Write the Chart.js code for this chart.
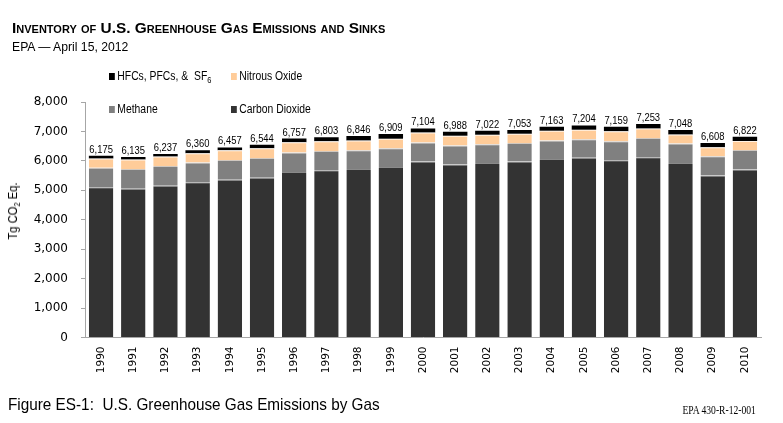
<!DOCTYPE html>
<html>
<head>
<meta charset="utf-8">
<title>U.S. Greenhouse Gas Emissions by Gas</title>
<script src="https://cdn.jsdelivr.net/npm/chart.js@4.4.1/dist/chart.umd.min.js"></script>
<style>
  html, body { margin: 0; padding: 0; background: #fff; }
  #wrap { position: relative; width: 783px; height: 423px; overflow: hidden; }
  #chart { position: absolute; left: 0; top: 0; }
  .txt { position: absolute; white-space: nowrap; color: #000; line-height: 1; }
  .narrow { font-family: "Liberation Sans", Arial, sans-serif; transform-origin: left center; transform: scaleX(0.83); }
  #title { left: 12px; top: 19px; font: bold 15.4px "Liberation Sans", Arial, sans-serif; font-variant: small-caps; }
  #subtitle { left: 12px; top: 40px; font: 12.2px "Liberation Sans", Arial, sans-serif; }
  .legend { font-size: 12.5px; }
  .legend i { display: inline-block; width: 7px; height: 7px; margin-right: 3px; vertical-align: 0; }
  .legend sub { font-size: 9px; vertical-align: -3px; }
  #ytitle { left: 14px; top: 211px; font-size: 13.5px; transform-origin: center center; transform: translate(-50%, -50%) rotate(-90deg) scaleX(0.83); }
  #ytitle sub { font-size: 9px; vertical-align: -3px; }
  #caption { left: 8px; top: 396px; font-size: 17px; transform: scaleX(0.9); }
  #docid { right: 27px; top: 403px; font: 12px "Liberation Serif", "Times New Roman", serif; transform: scaleX(0.8); transform-origin: right center; }
</style>
</head>
<body>
<div id="wrap">
  <canvas id="chart" width="783" height="423"></canvas>
  <div id="title" class="txt">Inventory of U.S. Greenhouse Gas Emissions and Sinks</div>
  <div id="subtitle" class="txt">EPA — April 15, 2012</div>
  <div class="txt narrow legend" style="left:109px; top:70px;"><i style="background:#000000"></i>HFCs, PFCs, &amp;&nbsp; SF<sub>6</sub></div>
  <div class="txt narrow legend" style="left:231px; top:70px;"><i style="background:#ffcc99"></i>Nitrous Oxide</div>
  <div class="txt narrow legend" style="left:109px; top:102.5px;"><i style="background:#808080"></i>Methane</div>
  <div class="txt narrow legend" style="left:231px; top:102.5px;"><i style="background:#333333"></i>Carbon Dioxide</div>
  <div id="ytitle" class="txt narrow">Tg CO<sub>2</sub> Eq.</div>
  <div id="caption" class="txt narrow">Figure ES-1:&nbsp; U.S. Greenhouse Gas Emissions by Gas</div>
  <div id="docid" class="txt">EPA 430-R-12-001</div>
</div>
<script>
const years = ['1990', '1991', '1992', '1993', '1994', '1995', '1996', '1997', '1998', '1999', '2000',
               '2001', '2002', '2003', '2004', '2005', '2006', '2007', '2008', '2009', '2010']

// Tg CO2 Eq.
const carbonDioxide = [5100, 5055, 5152, 5275, 5355, 5430, 5620, 5685, 5725, 5795, 5975,
                       5880, 5925, 5975, 6065, 6108, 6019, 6119, 5924, 5500, 5706]
const methane = [668, 672, 670, 668, 672, 665, 668, 648, 638, 630, 650,
                 640, 640, 635, 630, 626, 650, 660, 665, 660, 667]
const nitrousOxide = [316, 322, 323, 318, 330, 334, 344, 330, 330, 330, 340,
                      335, 320, 310, 325, 320, 335, 318, 310, 300, 306]
const fluorinated = [91, 86, 92, 99, 100, 115, 125, 140, 153, 154, 139,
                     133, 137, 133, 143, 150, 155, 156, 149, 148, 143]

// totals printed above each bar
const totals = [6175, 6135, 6237, 6360, 6457, 6544, 6757, 6803, 6846, 6909, 7104,
                6988, 7022, 7053, 7163, 7204, 7159, 7253, 7048, 6608, 6822]

const yMax = 8000
const yStep = 1000

// the original text is narrow, so squeeze it a bit
const totalLabels = {
    id: 'totalLabels',
    afterDatasetsDraw(chart) {
        const ctx = chart.ctx
        const meta = chart.getDatasetMeta(chart.data.datasets.length - 1)
        ctx.save()
        ctx.font = '11.2px "Liberation Sans", Arial, sans-serif'
        ctx.fillStyle = '#000'
        ctx.textAlign = 'center'
        ctx.textBaseline = 'alphabetic'
        meta.data.forEach((bar, i) => {
            ctx.save()
            ctx.translate(bar.x, bar.y - 3)
            ctx.scale(0.84, 1)
            ctx.fillText(totals[i].toLocaleString('en-US'), 0, 0)
            ctx.restore()
        })
        ctx.restore()
    }
}

const axisColor = '#a6a6a6'
// faint light line on top of each segment, like the original
const seam = { top: 1, right: 0, bottom: 0, left: 0 }

new Chart(document.getElementById('chart'), {
    type: 'bar',
    data: {
        labels: years,
        datasets: [
            { label: 'Carbon Dioxide', data: carbonDioxide, backgroundColor: '#333333', borderColor: '#8a8a8a', borderWidth: seam },
            { label: 'Methane', data: methane, backgroundColor: '#808080', borderColor: '#d0c8c0', borderWidth: seam },
            { label: 'Nitrous Oxide', data: nitrousOxide, backgroundColor: '#ffcc99', borderColor: '#fff3e6', borderWidth: seam },
            { label: 'HFCs, PFCs, & SF6', data: fluorinated, backgroundColor: '#000000', borderWidth: 0 },
        ],
    },
    options: {
        responsive: false,
        animation: false,
        datasets: {
            bar: { barPercentage: 0.76, categoryPercentage: 1, borderSkipped: false }
        },
        layout: {
            padding: { top: 102, right: 22, bottom: 0, left: 0 }
        },
        plugins: {
            legend: { display: false },
            tooltip: { enabled: false },
        },
        scales: {
            x: {
                stacked: true,
                grid: { display: false, drawTicks: false },
                border: { display: true, color: axisColor },
                ticks: {
                    autoSkip: false,
                    minRotation: 90,
                    maxRotation: 90,
                    padding: 9,
                    color: '#000',
                    font: { family: '"DejaVu Sans", sans-serif', size: 10.5 },
                },
                afterFit: scale => { scale.height = 85.5 },
            },
            y: {
                stacked: true,
                min: 0,
                max: yMax,
                grid: { drawOnChartArea: false, drawTicks: true, tickLength: 4, color: axisColor },
                border: { display: true, color: axisColor },
                ticks: {
                    stepSize: yStep,
                    padding: 13,
                    color: '#000',
                    font: { family: '"DejaVu Sans", sans-serif', size: 12 },
                    callback: value => value.toLocaleString('en-US'),
                },
                afterFit: scale => { scale.width = 85 },
            },
        },
    },
    plugins: [totalLabels],
})
</script>
</body>
</html>
